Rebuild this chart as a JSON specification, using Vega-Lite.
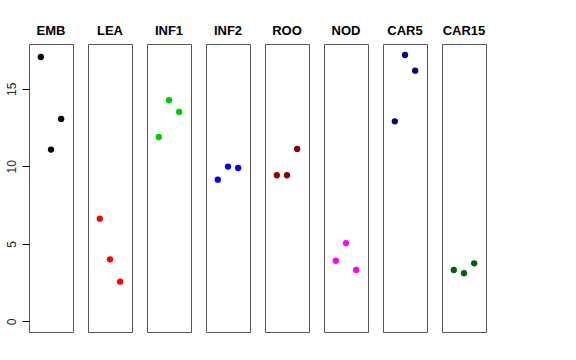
{
  "$schema": "https://vega.github.io/schema/vega-lite/v6.json",
  "padding": {"left": 5, "top": 25, "right": 5, "bottom": 5},
  "background": "white",
  "data": {"values": [
    {"g": "EMB", "x": 1, "y": 17.05},
    {"g": "EMB", "x": 2, "y": 11.08},
    {"g": "EMB", "x": 3, "y": 13.05},
    {"g": "LEA", "x": 1, "y": 6.62},
    {"g": "LEA", "x": 2, "y": 4.0},
    {"g": "LEA", "x": 3, "y": 2.56},
    {"g": "INF1", "x": 1, "y": 11.89},
    {"g": "INF1", "x": 2, "y": 14.26},
    {"g": "INF1", "x": 3, "y": 13.5},
    {"g": "INF2", "x": 1, "y": 9.14},
    {"g": "INF2", "x": 2, "y": 9.98},
    {"g": "INF2", "x": 3, "y": 9.89},
    {"g": "ROO", "x": 1, "y": 9.42},
    {"g": "ROO", "x": 2, "y": 9.42},
    {"g": "ROO", "x": 3, "y": 11.12},
    {"g": "NOD", "x": 1, "y": 3.91},
    {"g": "NOD", "x": 2, "y": 5.05},
    {"g": "NOD", "x": 3, "y": 3.31},
    {"g": "CAR5", "x": 1, "y": 12.9},
    {"g": "CAR5", "x": 2, "y": 17.18},
    {"g": "CAR5", "x": 3, "y": 16.17},
    {"g": "CAR15", "x": 1, "y": 3.31},
    {"g": "CAR15", "x": 2, "y": 3.1},
    {"g": "CAR15", "x": 3, "y": 3.74}
  ]},
  "bounds": "flush",
  "facet": {
    "column": {
      "field": "g",
      "type": "nominal",
      "sort": ["EMB", "LEA", "INF1", "INF2", "ROO", "NOD", "CAR5", "CAR15"],
      "header": {
        "title": null,
        "labelFont": "Liberation Sans",
        "labelFontWeight": "bold",
        "labelFontSize": 13,
        "labelColor": "black",
        "labelPadding": 6
      }
    }
  },
  "spacing": 15,
  "spec": {
    "width": 44,
    "height": 288,
    "mark": {"type": "point", "filled": true, "shape": "circle", "size": 40, "opacity": 1},
    "encoding": {
      "x": {
        "field": "x", "type": "quantitative",
        "scale": {"domain": [-0.16, 4.16], "nice": false, "zero": false},
        "axis": null
      },
      "y": {
        "field": "y", "type": "quantitative",
        "scale": {"domain": [-0.688, 17.888], "nice": false, "zero": false},
        "axis": {
          "title": null,
          "values": [0, 5, 10, 15],
          "grid": false,
          "domain": false,
          "tickSize": 7,
          "tickColor": "black",
          "labelAngle": -90,
          "labelAlign": "center",
          "labelBaseline": "bottom",
          "labelPadding": 4,
          "labelFont": "Liberation Sans",
          "labelFontSize": 12,
          "labelColor": "#222",
          "minExtent": 24,
          "maxExtent": 24
        }
      },
      "color": {
        "field": "g", "type": "nominal",
        "scale": {
          "domain": ["EMB", "LEA", "INF1", "INF2", "ROO", "NOD", "CAR5", "CAR15"],
          "range": ["#000000", "#FF0000", "#00CD00", "#0000FF", "#8B0000", "#FF00FF", "#000080", "#006400"]
        },
        "legend": null
      }
    }
  },
  "config": {
    "view": {"stroke": "#555555", "strokeWidth": 1}
  }
}
